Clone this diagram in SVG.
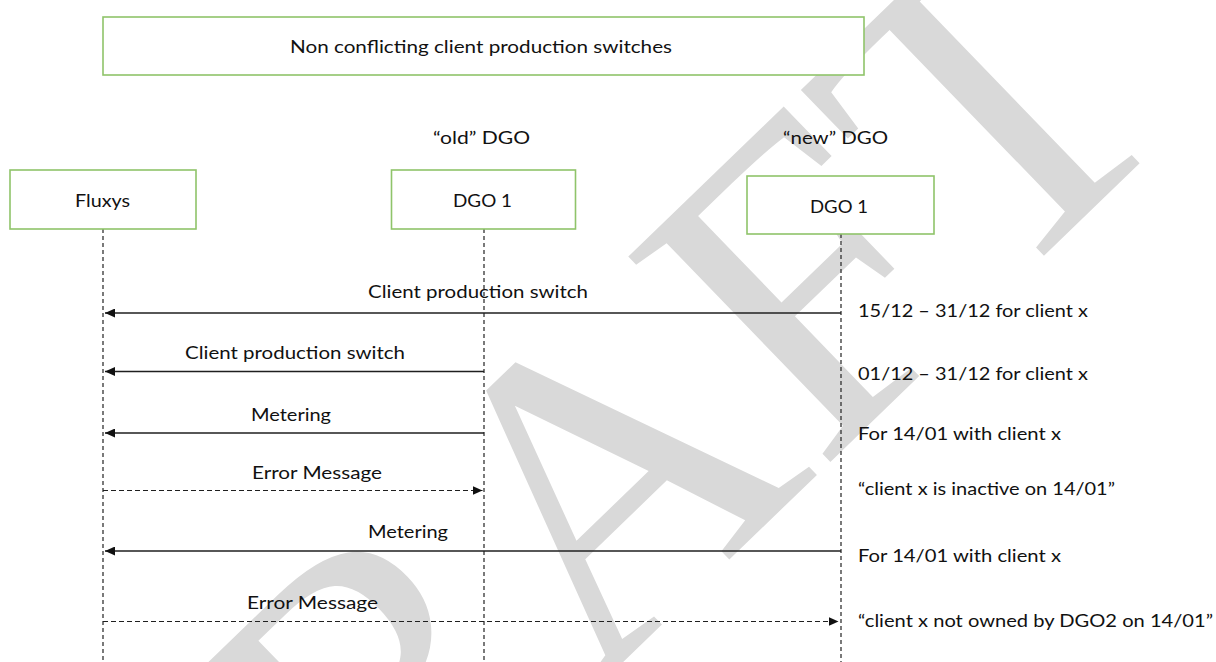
<svg xmlns="http://www.w3.org/2000/svg" width="1216" height="662" viewBox="0 0 1216 662">
  <style>
    .lbl { font-family: Lato, "Liberation Sans", "DejaVu Sans", sans-serif; font-size: 18px; fill: #111; }
    .box { fill: #ffffff; stroke: #8fc46a; stroke-width: 1.6; }
    .life { stroke: #222; stroke-width: 1.2; stroke-dasharray: 4 3; fill: none; }
    .msg { stroke: #1f1f1f; stroke-width: 1.6; fill: none; }
    .ret { stroke: #1f1f1f; stroke-width: 1.2; stroke-dasharray: 5 3; fill: none; }
    .mark { font-family: "Liberation Serif", "DejaVu Serif", serif; font-size: 440px; fill: #d9d9d9; }
  </style>
  <defs>
    <marker id="head" viewBox="0 0 10 9" refX="10" refY="4.5" markerWidth="10" markerHeight="9" markerUnits="userSpaceOnUse" orient="auto">
      <path d="M0,0 L10,4.5 L0,9 Z" fill="#111"/>
    </marker>
  </defs>

  <!-- background watermark -->
  <text class="mark" transform="translate(151,1118) rotate(-44)">DRAFT</text>

  <!-- title -->
  <g id="title">
    <rect class="box" x="103" y="17" width="761" height="58"/>
    <text class="lbl" x="290" y="53" textLength="382" lengthAdjust="spacingAndGlyphs">Non conflicting client production switches</text>
  </g>

  <!-- lifelines -->
  <g id="lifelines">
    <line class="life" x1="103" y1="229" x2="103" y2="662"/>
    <line class="life" x1="484" y1="229" x2="484" y2="662"/>
    <line class="life" x1="841" y1="234" x2="841" y2="662"/>
  </g>

  <!-- participants -->
  <g id="fluxys">
    <rect class="box" x="10" y="170" width="186" height="59"/>
    <text class="lbl" x="75" y="207" textLength="55" lengthAdjust="spacingAndGlyphs">Fluxys</text>
  </g>
  <g id="dgo-old">
    <text class="lbl" x="433" y="143.5" textLength="97" lengthAdjust="spacingAndGlyphs">“old” DGO</text>
    <rect class="box" x="391.5" y="170" width="184" height="59"/>
    <text class="lbl" x="453" y="207" textLength="59" lengthAdjust="spacingAndGlyphs">DGO 1</text>
  </g>
  <g id="dgo-new">
    <text class="lbl" x="783" y="143.5" textLength="105" lengthAdjust="spacingAndGlyphs">“new” DGO</text>
    <rect class="box" x="747" y="176" width="187" height="58"/>
    <text class="lbl" x="810" y="213" textLength="58" lengthAdjust="spacingAndGlyphs">DGO 1</text>
  </g>

  <!-- messages -->
  <g id="connectors">
    <line class="msg" x1="841" y1="313" x2="105" y2="313" marker-end="url(#head)"/>
    <line class="msg" x1="484" y1="371.5" x2="105" y2="371.5" marker-end="url(#head)"/>
    <line class="msg" x1="484" y1="433" x2="105" y2="433" marker-end="url(#head)"/>
    <line class="ret" x1="103" y1="490.5" x2="482.5" y2="490.5" marker-end="url(#head)"/>
    <line class="msg" x1="841" y1="551" x2="105" y2="551" marker-end="url(#head)"/>
    <line class="ret" x1="103" y1="621.5" x2="838.5" y2="621.5" marker-end="url(#head)"/>
  </g>

  <!-- message labels -->
  <g id="message-labels">
    <text class="lbl" x="368" y="298" textLength="220" lengthAdjust="spacingAndGlyphs">Client production switch</text>
    <text class="lbl" x="185" y="359" textLength="220" lengthAdjust="spacingAndGlyphs">Client production switch</text>
    <text class="lbl" x="251" y="420.5" textLength="80" lengthAdjust="spacingAndGlyphs">Metering</text>
    <text class="lbl" x="252" y="479" textLength="130" lengthAdjust="spacingAndGlyphs">Error Message</text>
    <text class="lbl" x="368" y="538" textLength="80" lengthAdjust="spacingAndGlyphs">Metering</text>
    <text class="lbl" x="247" y="609" textLength="131" lengthAdjust="spacingAndGlyphs">Error Message</text>
  </g>

  <!-- notes beside the new DGO lifeline -->
  <g id="notes">
    <text class="lbl" x="858" y="317" textLength="230" lengthAdjust="spacingAndGlyphs">15/12 – 31/12 for client x</text>
    <text class="lbl" x="858" y="380" textLength="230" lengthAdjust="spacingAndGlyphs">01/12 – 31/12 for client x</text>
    <text class="lbl" x="858" y="440" textLength="203" lengthAdjust="spacingAndGlyphs">For 14/01 with client x</text>
    <text class="lbl" x="858" y="495" textLength="257" lengthAdjust="spacingAndGlyphs">“client x is inactive on 14/01”</text>
    <text class="lbl" x="858" y="562" textLength="203" lengthAdjust="spacingAndGlyphs">For 14/01 with client x</text>
    <text class="lbl" x="858" y="627" textLength="355" lengthAdjust="spacingAndGlyphs">“client x not owned by DGO2 on 14/01”</text>
  </g>
</svg>
